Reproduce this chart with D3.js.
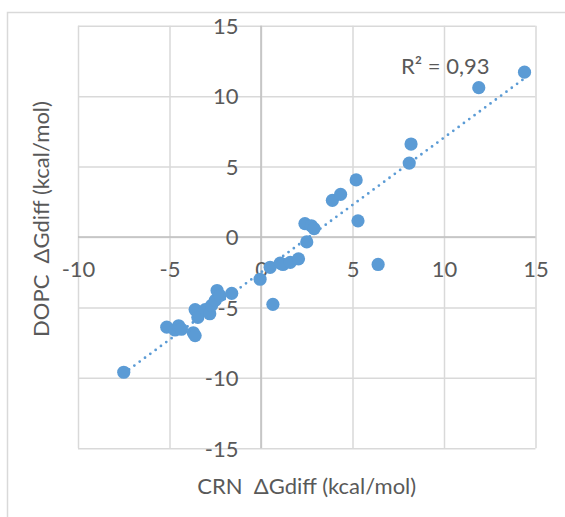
<!DOCTYPE html>
<html>
<head>
<meta charset="utf-8">
<script src="https://cdn.jsdelivr.net/npm/d3@7"></script>
<style>
  html, body { margin: 0; padding: 0; background: #fff; }
  svg { display: block; }
  text { font-family: Lato, "Open Sans", sans-serif; fill: #595959; white-space: pre; }
</style>
</head>
<body>
<svg id="chart" width="565" height="517"></svg>
<script>
// CRN ΔGdiff (x) and DOPC ΔGdiff (y), kcal/mol
const crnX = [-7.5, -5.15, -4.7, -4.5, -4.35, -3.7, -3.6, -3.6, -3.45, -3.05, -2.8, -2.7, -2.5, -2.4, -2.25, -1.6,
  -0.05, 0.5, 0.65, 1.05, 1.2, 1.6, 2.05, 2.5, 2.4, 2.75, 2.9, 3.9, 4.35, 5.2, 5.3, 6.4, 8.1, 8.2, 11.9, 14.4];
const dopcY = [-9.6, -6.4, -6.6, -6.3, -6.55, -6.8, -7.0, -5.15, -5.7, -5.15, -5.45, -4.85, -4.5, -3.8, -4.15, -4.0,
  -3.0, -2.15, -4.78, -1.85, -1.95, -1.8, -1.55, -0.35, 0.95, 0.8, 0.6, 2.6, 3.03, 4.05, 1.15, -1.95, 5.25, 6.6, 10.6, 11.7];
const xTicks = [-10, -5, 0, 5, 10, 15];
const yTicks = [-15, -10, -5, 0, 5, 10, 15];
const xTitle = "CRN  ΔGdiff (kcal/mol)";
const yTitle = "DOPC  ΔGdiff (kcal/mol)";
const r2Label = "R² = 0,93";

const svg = d3.select("#chart");
const L = 78, R = 535.5, T = 25.7, B = 448.3;
const x = d3.scaleLinear().domain([-10, 15]).range([L, R]);
const y = d3.scaleLinear().domain([-15, 15]).range([B, T]);
const fmt = d => String(d);

// outer chart border
svg.append("rect").attr("x", 7.5).attr("y", 12.5).attr("width", 600).attr("height", 600)
  .attr("fill", "none").attr("stroke", "#d9d9d9").attr("stroke-width", 1.5);

// gridlines
const grid = svg.append("g");
grid.append("g").attr("transform", `translate(0,${B})`)
  .call(d3.axisBottom(x).tickValues(xTicks).tickSize(-(B - T)).tickFormat(""))
  .call(g => g.select(".domain").remove())
  .call(g => g.selectAll("line").attr("stroke", "#d9d9d9").attr("stroke-width", 1.5));
grid.append("g").attr("transform", `translate(${L},0)`)
  .call(d3.axisLeft(y).tickValues(yTicks).tickSize(-(R - L)).tickFormat(""))
  .call(g => g.select(".domain").remove())
  .call(g => g.selectAll("line").attr("stroke", "#d9d9d9").attr("stroke-width", 1.5));

// zero axes
svg.append("line").attr("x1", x(0)).attr("x2", x(0)).attr("y1", T).attr("y2", B)
  .attr("stroke", "#bfbfbf").attr("stroke-width", 1.5);
svg.append("line").attr("x1", L).attr("x2", R).attr("y1", y(0)).attr("y2", y(0))
  .attr("stroke", "#bfbfbf").attr("stroke-width", 1.5);

// tick labels
svg.append("g").attr("transform", `translate(0,${y(0)})`)
  .call(d3.axisBottom(x).tickValues(xTicks).tickSize(0).tickFormat(fmt))
  .call(g => g.select(".domain").remove())
  .call(g => g.selectAll("text").attr("y", 32).attr("dy", "0.35em")
    .attr("font-size", 22).attr("fill", "#595959").attr("font-family", "Lato, 'Open Sans', sans-serif"));
svg.append("g").attr("transform", `translate(${x(0) - 22.5},0)`)
  .call(d3.axisLeft(y).tickValues(yTicks).tickSize(0).tickPadding(0).tickFormat(fmt))
  .call(g => g.select(".domain").remove())
  .call(g => g.selectAll("text").attr("dy", "0.35em")
    .attr("font-size", 22).attr("fill", "#595959").attr("font-family", "Lato, 'Open Sans', sans-serif"));

// trendline (least squares)
const n = crnX.length;
const mx = d3.mean(crnX), my = d3.mean(dopcY);
let sxy = 0, sxx = 0;
for (let i = 0; i < n; i++) { sxy += (crnX[i] - mx) * (dopcY[i] - my); sxx += (crnX[i] - mx) ** 2; }
const slope = sxy / sxx, icpt = my - slope * mx;
const [x0, x1] = d3.extent(crnX);
svg.append("line")
  .attr("x1", x(x0)).attr("y1", y(slope * x0 + icpt))
  .attr("x2", x(x1)).attr("y2", y(slope * x1 + icpt))
  .attr("stroke", "#5b9bd5").attr("stroke-width", 2.8)
  .attr("stroke-linecap", "round").attr("stroke-dasharray", "0 6.6");

// points
svg.append("g").selectAll("circle").data(crnX.map((d, i) => [d, dopcY[i]])).join("circle")
  .attr("cx", d => x(d[0])).attr("cy", d => y(d[1])).attr("r", 6.6)
  .attr("fill", "#5b9bd5");

// R² label
svg.append("text").attr("x", 401).attr("y", 73.5).attr("font-size", 22).text(r2Label);

// axis titles
svg.append("text").attr("x", (L + R) / 2).attr("y", 494).attr("text-anchor", "middle")
  .attr("font-size", 22).text(xTitle);
svg.append("text").attr("transform", "translate(49,219) rotate(-90)").attr("text-anchor", "middle")
  .attr("font-size", 22).text(yTitle);
</script>
</body>
</html>
